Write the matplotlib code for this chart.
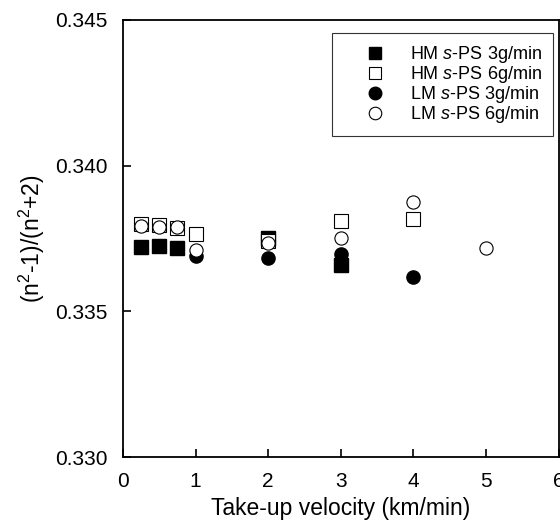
import matplotlib.pyplot as plt

plt.rcParams['font.family'] = ['Liberation Sans', 'DejaVu Sans']
plt.rcParams['mathtext.fontset'] = 'custom'
plt.rcParams['mathtext.rm'] = 'Liberation Sans'
plt.rcParams['mathtext.it'] = 'Liberation Sans:italic'

# take-up velocity (km/min) and (n^2-1)/(n^2+2) values
hm3_x = [0.25, 0.5, 0.75, 2, 3]
hm3_y = [0.33721, 0.33725, 0.33719, 0.33752, 0.33658]

hm6_x = [0.25, 0.5, 0.75, 1, 2, 3, 4]
hm6_y = [0.33800, 0.33795, 0.33785, 0.33765, 0.33740, 0.33810, 0.33818]

lm3_x = [1, 2, 3, 4]
lm3_y = [0.33690, 0.33682, 0.33698, 0.33617]

lm6_x = [0.25, 0.5, 0.75, 1, 2, 3, 4, 5]
lm6_y = [0.33792, 0.33790, 0.33788, 0.33712, 0.33735, 0.33752, 0.33876, 0.33718]

fig = plt.figure(figsize=(5.6, 5.22), dpi=100)
ax = fig.add_axes([0.2196, 0.1245, 0.778, 0.8372])

ms = 9.5
ax.plot(hm3_x, hm3_y, 's', color='black', ms=ms, label='HM $\\it{s}$-PS 3g/min ')
ax.plot(hm6_x, hm6_y, 's', mfc='white', mec='black', mew=0.8, ms=ms, label='HM $\\it{s}$-PS 6g/min ')
ax.plot(lm3_x, lm3_y, 'o', color='black', ms=ms, label='LM $\\it{s}$-PS 3g/min ')
ax.plot(lm6_x, lm6_y, 'o', mfc='white', mec='black', mew=0.8, ms=ms, label='LM $\\it{s}$-PS 6g/min ')

ax.set_xlim(0, 6)
ax.set_ylim(0.330, 0.345)
ax.set_xticks([0, 1, 2, 3, 4, 5, 6])
ax.set_yticks([0.330, 0.335, 0.340, 0.345])
ax.set_yticklabels(['0.330', '0.335', '0.340', '0.345'])
ax.tick_params(direction='in', length=6, width=1.2, labelsize=15, pad=11)

for s in ax.spines.values():
    s.set_linewidth(1.3)

ax.set_xlabel('Take-up velocity (km/min)', fontsize=16.5, labelpad=4)
ax.set_ylabel('(n$^2$-1)/(n$^2$+2)', fontsize=16.5, labelpad=6)

leg = ax.legend(loc='upper right', bbox_to_anchor=(0.988, 0.97), fontsize=13,
                frameon=True, fancybox=False, edgecolor='black', handletextpad=0.1,
                borderpad=0.6, borderaxespad=0, labelspacing=-0.05, handlelength=3.6,
                markerscale=0.95)
leg.get_frame().set_linewidth(0.8)

fig.savefig('out.png', dpi=100)
